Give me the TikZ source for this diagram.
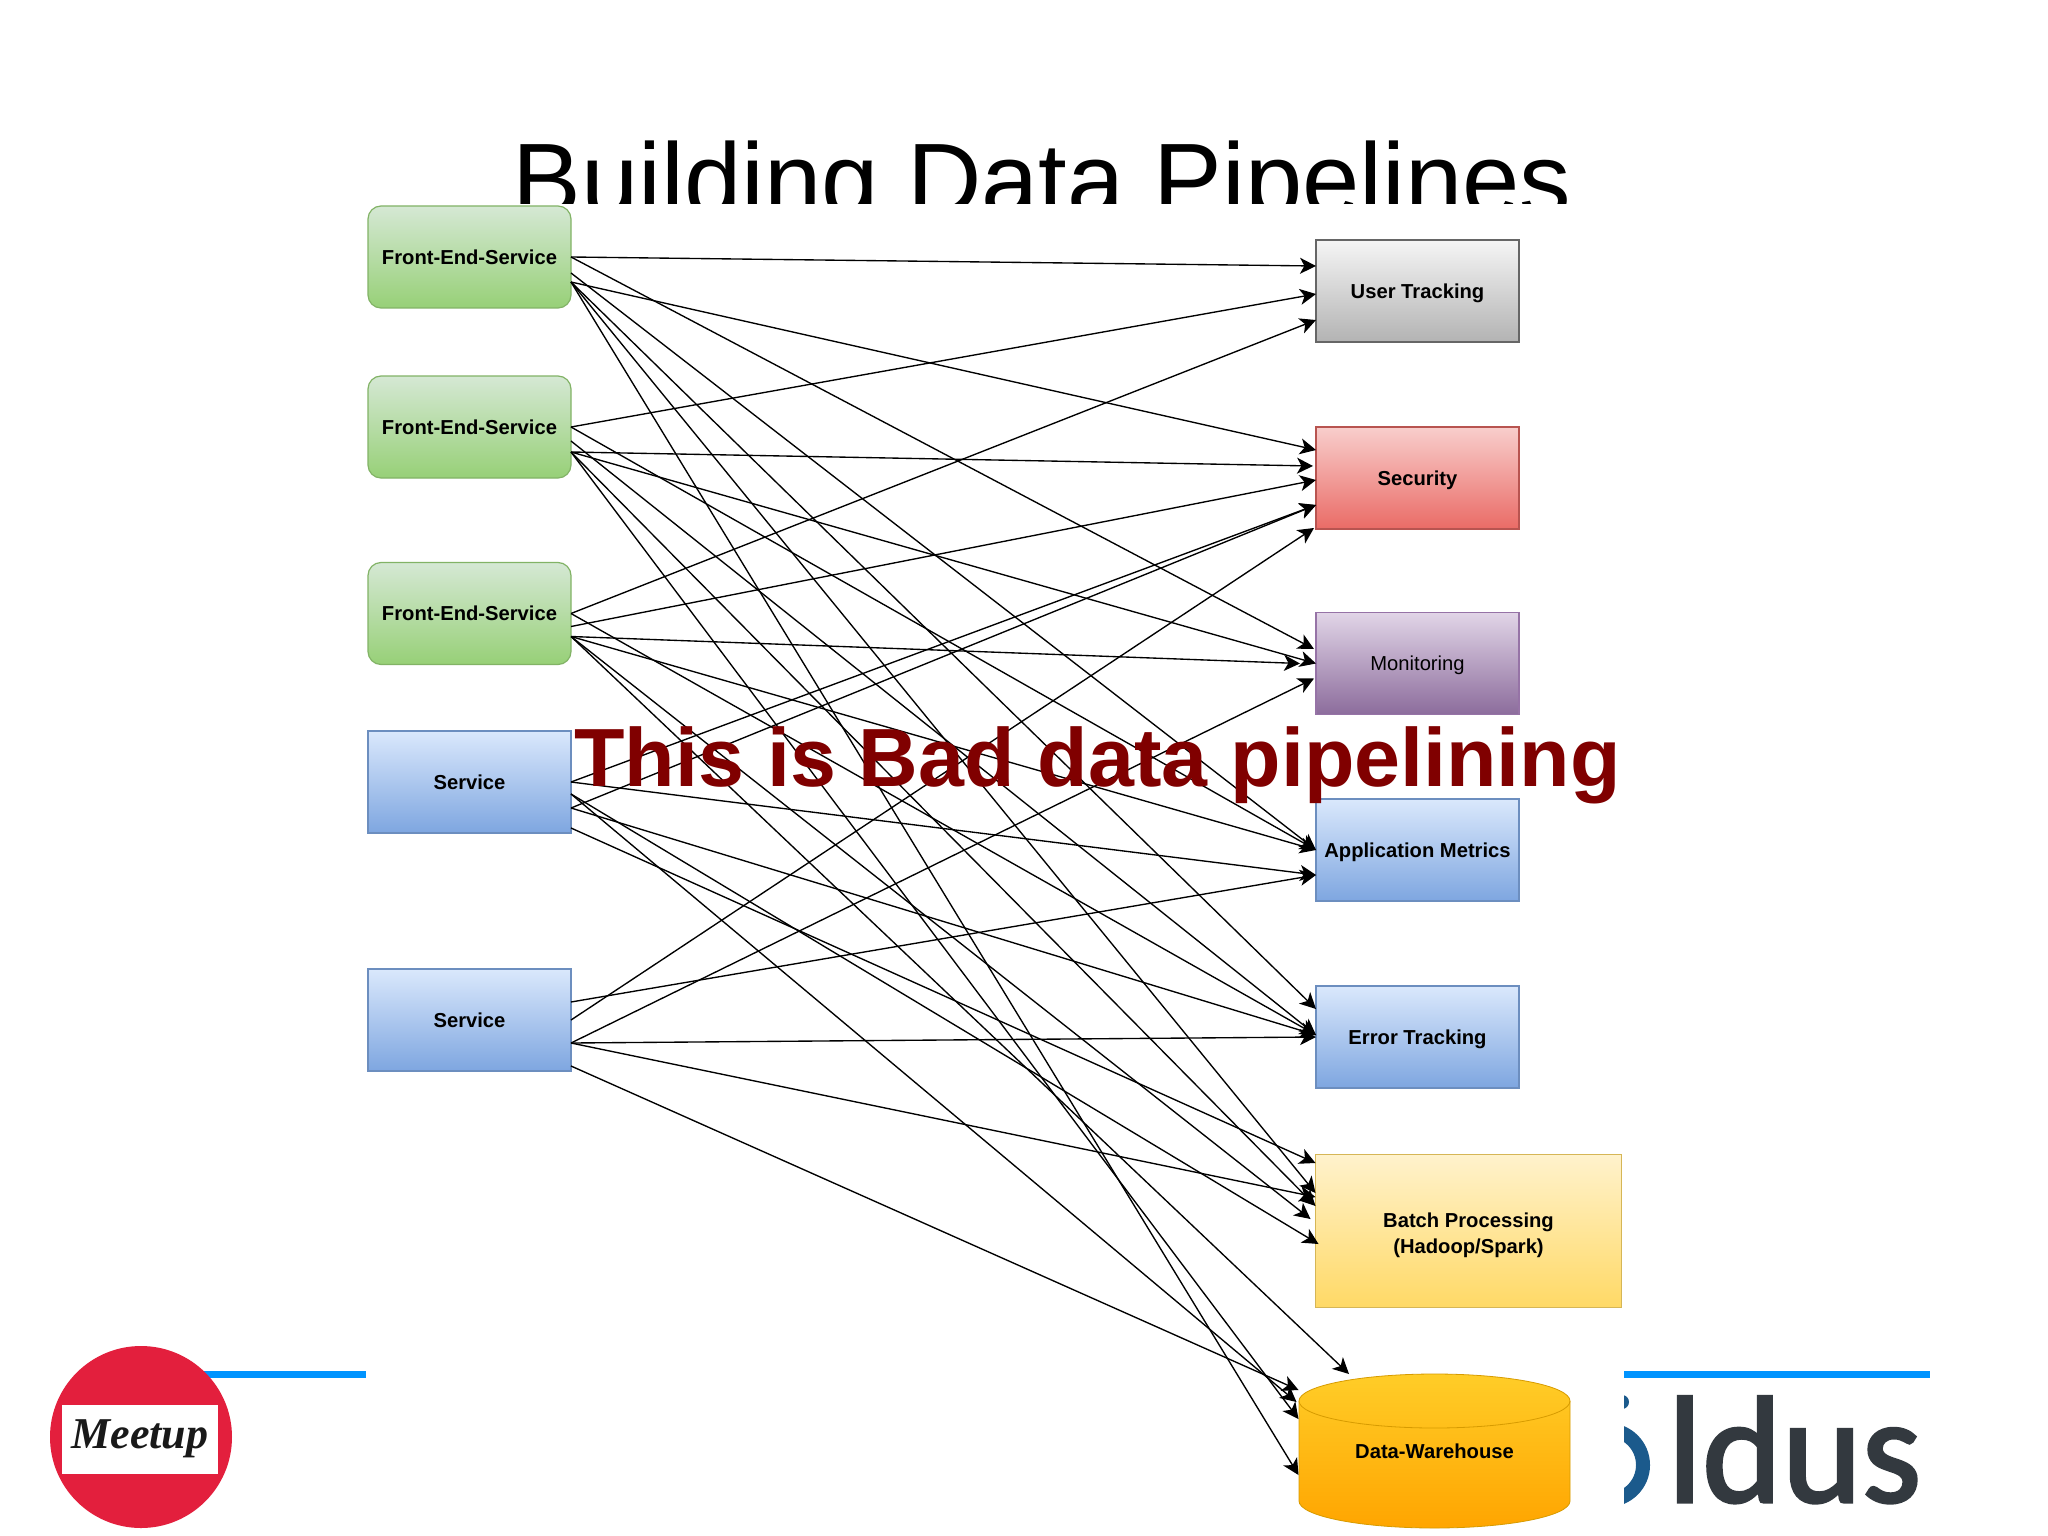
\documentclass[tikz,border=0pt]{standalone}
\usepackage{fontspec}
\setmainfont{Liberation Sans}
\newfontfamily\logofont[FakeBold=2]{Carlito}
\newfontfamily\handfont{Liberation Serif}
\usetikzlibrary{arrows.meta,calc}
\definecolor{darkred}{HTML}{800000}
\definecolor{barblue}{HTML}{0094FF}
\definecolor{meetred}{HTML}{E31F3D}
\definecolor{logodark}{HTML}{33393F}
\definecolor{logoblue}{HTML}{1B5A8C}
\definecolor{HGreenTop}{HTML}{D5E8D4}\definecolor{HGreenBot}{HTML}{97D077}\definecolor{HGreenLine}{HTML}{82B366}
\definecolor{HBlueTop}{HTML}{DAE8FC}\definecolor{HBlueBot}{HTML}{7EA6E0}\definecolor{HBlueLine}{HTML}{6C8EBF}
\definecolor{HGrayTop}{HTML}{F5F5F5}\definecolor{HGrayBot}{HTML}{B3B3B3}\definecolor{HGrayLine}{HTML}{666666}
\definecolor{HRedTop}{HTML}{F8CECC}\definecolor{HRedBot}{HTML}{EA6B66}\definecolor{HRedLine}{HTML}{B85450}
\definecolor{HPurTop}{HTML}{E1D5E7}\definecolor{HPurBot}{HTML}{8C6C9C}\definecolor{HPurLine}{HTML}{9673A6}
\definecolor{HYelTop}{HTML}{FFF2CC}\definecolor{HYelBot}{HTML}{FFD966}\definecolor{HYelLine}{HTML}{D6B656}
\definecolor{HCylTop}{HTML}{FFCD28}\definecolor{HCylBot}{HTML}{FFA500}\definecolor{HCylLine}{HTML}{D79B00}
\tikzset{
  x=0.5pt,y=-0.5pt,
  boxbase/.style={rectangle,inner sep=0pt,outer sep=0pt,line width=0.6pt,minimum width=101.5pt,minimum height=51pt,align=center,font=\fontsize{10.1}{13}\selectfont\bfseries},
  frontbox/.style={boxbase,rounded corners=6.5pt,top color=HGreenTop,bottom color=HGreenBot,draw=HGreenLine},
  servicebox/.style={boxbase,top color=HBlueTop,bottom color=HBlueBot,draw=HBlueLine},
  sinkblue/.style={servicebox,text depth=0pt},
  graybox/.style={boxbase,text depth=0pt,top color=HGrayTop,bottom color=HGrayBot,draw=HGrayLine},
  redbox/.style={boxbase,text depth=0pt,top color=HRedTop,bottom color=HRedBot,draw=HRedLine},
  purplebox/.style={boxbase,text depth=0pt,top color=HPurTop,bottom color=HPurBot,draw=HPurLine,font=\fontsize{10.1}{13}\selectfont},
  yellowbox/.style={boxbase,minimum width=153pt,minimum height=76.5pt,top color=HYelTop,bottom color=HYelBot,draw=HYelLine},
  conn/.style={draw=black,line width=0.68pt,-{Stealth[length=8pt,width=8pt,inset=2.2pt]}},
}
% source, source y offset (px), target, target x offset, target y offset (px)
\newcommand{\linkto}[5]{\draw[conn] ([yshift=-#2*0.5pt]#1.east) -- ([xshift=#4*0.5pt,yshift=-#5*0.5pt]#3.west);}
\begin{document}
\begin{tikzpicture}
\useasboundingbox (0,0) rectangle (2048,1535);
\fill[white] (0,0) rectangle (2048,1535);
% title (cut by the diagram image)
\begin{scope}
\clip (0,0) rectangle (2048,204);
\node[anchor=base west,inner sep=0pt,font=\fontsize{51.5}{60}\selectfont] (title) at (512,216) {Building Data Pipelines};
\end{scope}
% bars
\fill[barblue] (100,1371) rectangle (366,1378);
\fill[barblue] (1624,1371) rectangle (1930,1378);
% meetup logo
\fill[meetred] (141,1437) circle[radius=91];
\fill[white] (62,1405) rectangle (218,1474);
\node[font=\fontsize{22}{24}\selectfont\handfont\bfseries\itshape,inner sep=0pt,text=black!90] (meetup) at (140,1439) {Meetup};
% partner logo
\begin{scope}
\clip (1624,1380) rectangle (1940,1530);
\draw[logoblue,line width=7pt] (1608,1465) circle[radius=35];
\fill[logoblue] (1622,1402) circle[radius=7];
\end{scope}
\node[anchor=base west,inner sep=0pt,text=logodark,font=\fontsize{76}{90}\selectfont\logofont] (oldus) at (1667,1502) {ldus};
% sources
\node[frontbox] (fe1) at (469.5,257) {Front-End-Service};
\node[frontbox] (fe2) at (469.5,427) {Front-End-Service};
\node[frontbox] (fe3) at (469.5,613.5) {Front-End-Service};
\node[servicebox] (s1) at (469.5,782) {Service};
\node[servicebox] (s2) at (469.5,1020) {Service};
% sinks
\node[graybox] (ut) at (1417.5,291) {User Tracking};
\node[redbox] (sec) at (1417.5,478) {Security};
\node[purplebox] (mon) at (1417.5,663.5) {Monitoring};
\node[sinkblue] (am) at (1417.5,850) {Application Metrics};
\node[sinkblue] (et) at (1417.5,1037) {Error Tracking};
\node[yellowbox] (batch) at (1468.5,1231) {\rule{0pt}{11.3pt}Batch Processing\\(Hadoop/Spark)};
% cylinder
\path[top color=HCylTop,bottom color=HCylBot,draw=HCylLine,line width=0.4pt]
  (1299,1401) arc[start angle=180,end angle=360,x radius=135.5,y radius=27]
  -- (1570,1501) arc[start angle=0,end angle=180,x radius=135.5,y radius=27] -- cycle;
\draw[HCylLine,line width=0.4pt] (1299,1401) arc[start angle=180,end angle=0,x radius=135.5,y radius=27];
\node[rectangle,inner sep=0pt,outer sep=0pt,minimum width=136pt,minimum height=77pt,font=\fontsize{10.1}{13}\selectfont\bfseries] (dw) at (1434.5,1451) {Data-Warehouse};
% connectors
\linkto{fe1}{0}{ut}{0}{-25}
\linkto{fe1}{25}{sec}{0}{-28}
\linkto{fe1}{0}{mon}{-2}{-14.5}
\linkto{fe1}{16}{am}{0}{0}
\linkto{fe1}{25}{et}{0}{-28}
\linkto{fe1}{25}{batch}{0}{-38}
\linkto{fe1}{25}{dw}{0}{24}
\linkto{fe2}{0}{ut}{0}{3}
\linkto{fe2}{25}{sec}{-3}{-12}
\linkto{fe2}{25}{mon}{0}{0}
\linkto{fe2}{0}{am}{0}{0}
\linkto{fe2}{14}{et}{0}{-2}
\linkto{fe2}{25}{batch}{0}{-25}
\linkto{fe2}{25}{dw}{0}{-32}
\linkto{fe3}{0}{ut}{0}{29}
\linkto{fe3}{13}{sec}{0}{2}
\linkto{fe3}{23}{mon}{-16}{0}
\linkto{fe3}{23}{am}{0}{0}
\linkto{fe3}{0}{et}{0}{-2}
\linkto{fe3}{23}{batch}{-5}{-12}
\draw[conn] ([yshift=-11.5pt]fe3.east) -- ([xshift=-42.75pt]dw.north);
\linkto{s1}{0}{sec}{0}{27}
\linkto{s1}{26}{sec}{0}{27}
\linkto{s1}{0}{am}{0}{25}
\linkto{s1}{26}{et}{0}{-2}
\linkto{s1}{46}{batch}{0}{-68}
\linkto{s1}{12}{batch}{3}{13}
\linkto{s1}{12}{dw}{-2}{-49}
\linkto{s2}{0}{sec}{-2}{50}
\linkto{s2}{23}{mon}{-2}{15}
\linkto{s2}{-18}{am}{0}{25}
\linkto{s2}{23}{et}{0}{0}
\linkto{s2}{23}{batch}{0}{-34}
\linkto{s2}{46}{dw}{0}{-61}
% overlay
\node[anchor=base west,inner sep=0pt,text=darkred,font=\fontsize{41.3}{50}\selectfont\bfseries] (bad) at (574,786) {This is Bad data pipelining};
\end{tikzpicture}
\end{document}
